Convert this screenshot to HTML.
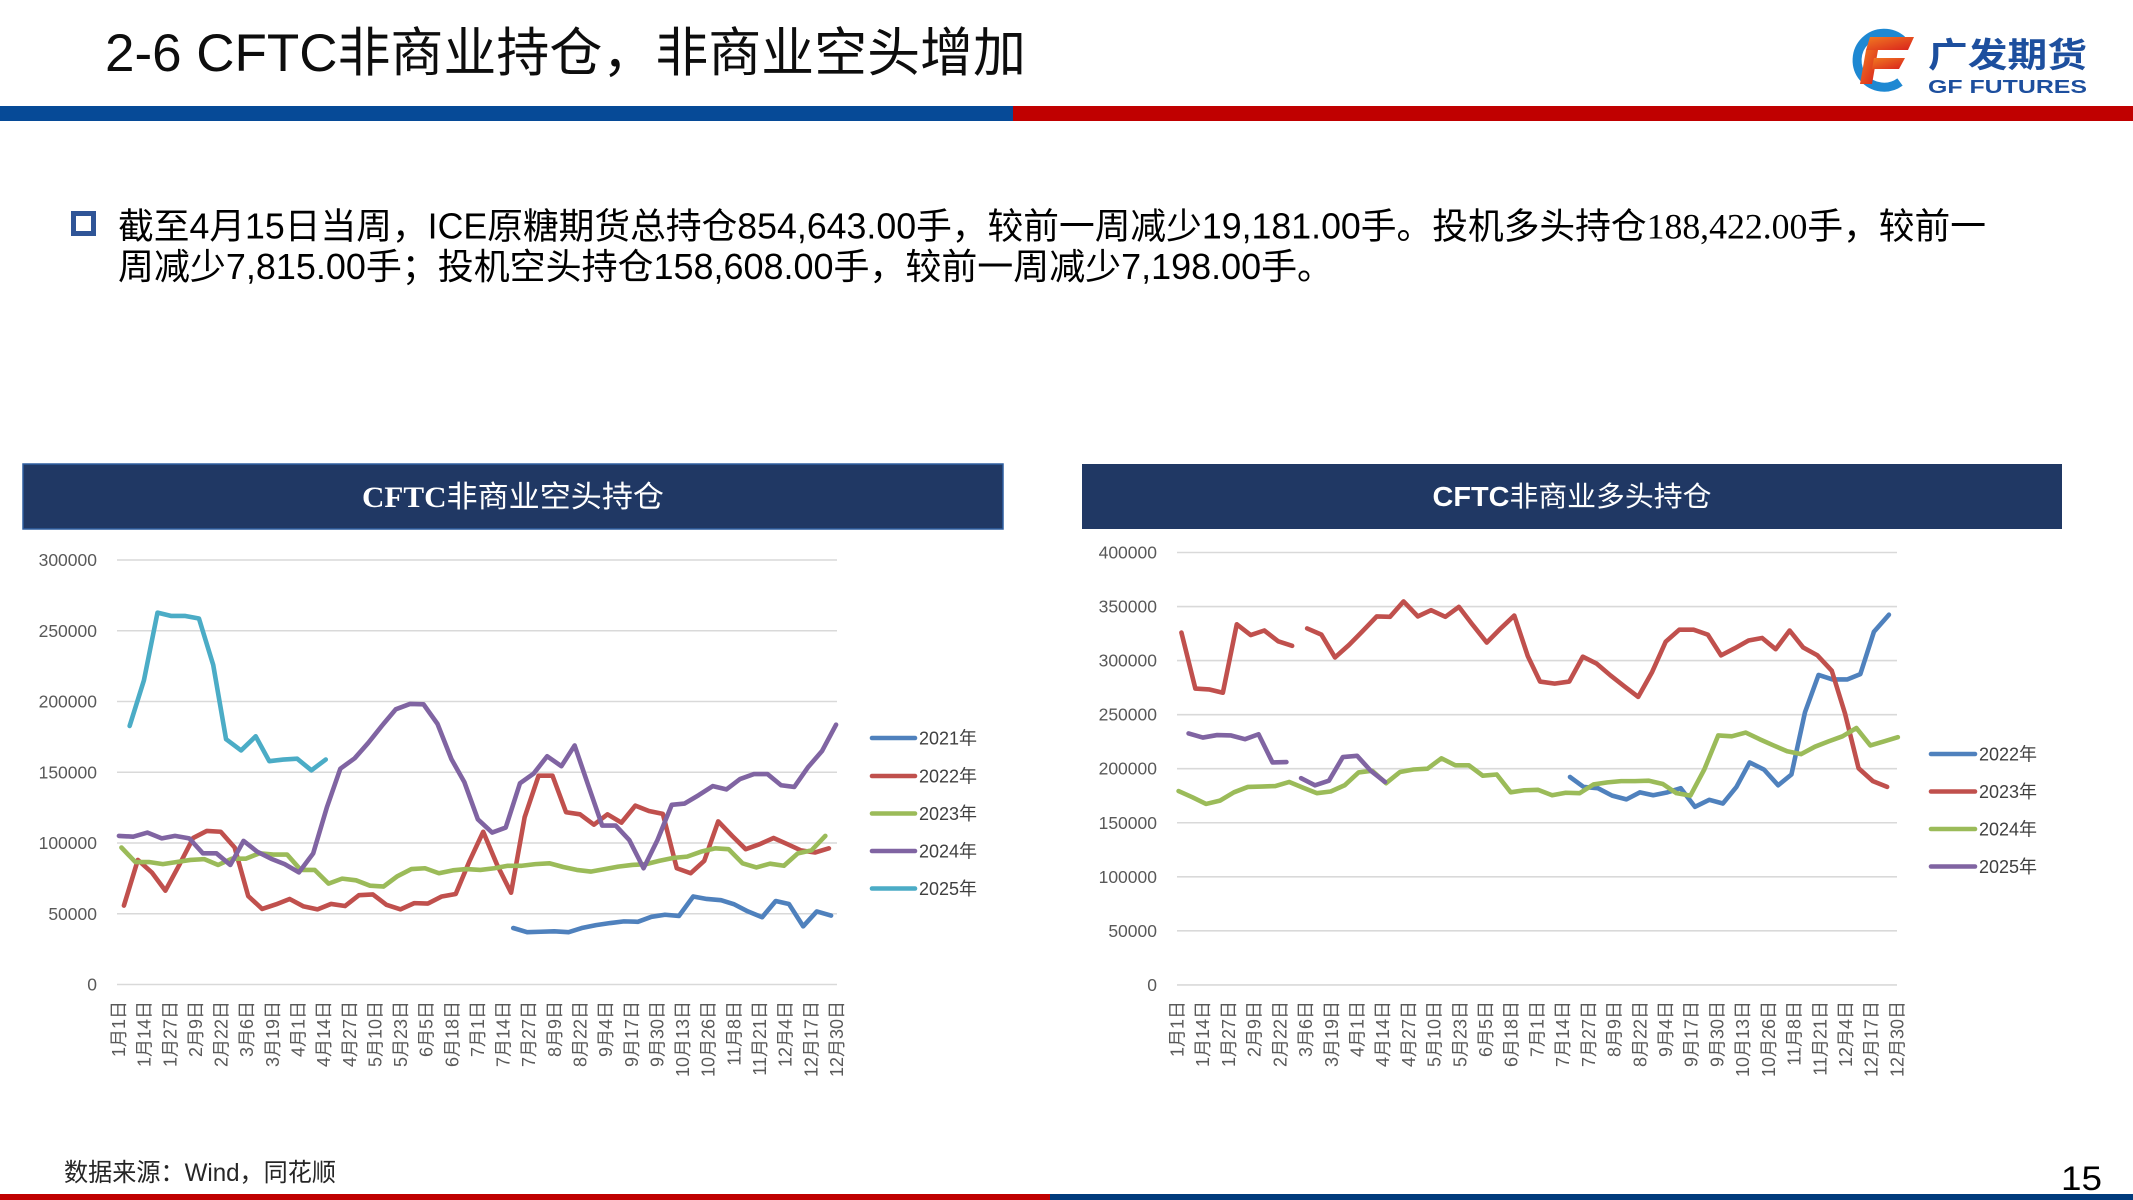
<!DOCTYPE html>
<html><head><meta charset="utf-8"><style>
html,body{margin:0;padding:0;background:#fff;}
body{width:2133px;height:1200px;overflow:hidden;}
svg{display:block;}
.s{font-family:"Liberation Sans","Noto Sans CJK SC",sans-serif;}
.ax{font-family:"Liberation Sans","Noto Sans CJK SC",sans-serif;font-size:17.5px;fill:#595959;}
.xl{font-family:"Liberation Sans","Noto Sans CJK SC",sans-serif;font-size:18px;fill:#595959;}
.lg{font-family:"Liberation Sans","Noto Sans CJK SC",sans-serif;font-size:18px;fill:#404040;}
</style></head><body>
<svg width="2133" height="1200" viewBox="0 0 2133 1200" xmlns="http://www.w3.org/2000/svg">
<defs>
<linearGradient id="fg" x1="0" y1="0" x2="1" y2="1"><stop offset="0" stop-color="#F07A22"/><stop offset="1" stop-color="#D9211C"/></linearGradient>
</defs>
<!-- Title -->
<text class="s" x="105" y="71" font-size="53" fill="#0d0d0d" textLength="921" lengthAdjust="spacingAndGlyphs">2-6 CFTC非商业持仓，非商业空头增加</text>
<!-- top bar -->
<rect x="0" y="106" width="1013" height="15" fill="#064A97"/>
<rect x="1013" y="106" width="1120" height="15" fill="#C00000"/>
<!-- logo -->
<rect x="1837" y="20" width="275" height="86" fill="#fff"/>
<path d="M1902,40 A27,27 0 1 0 1900,82" stroke="#1E88D2" stroke-width="9" fill="none"/>
<polygon points="1870,37 1914,37 1908,50 1866,50" fill="url(#fg)"/>
<polygon points="1866,50 1878,50 1872,84 1860,84" fill="url(#fg)"/>
<polygon points="1874,58 1905,58 1899,69 1872,69" fill="url(#fg)"/>
<text class="s" x="1928" y="67" font-size="34" font-weight="bold" fill="#1D4F9E" textLength="159" lengthAdjust="spacingAndGlyphs">广发期货</text>
<text class="s" x="1928" y="93" font-size="18" font-weight="bold" fill="#1D4F9E" textLength="159" lengthAdjust="spacingAndGlyphs">GF FUTURES</text>
<!-- bullet -->
<rect x="73.5" y="213.5" width="20" height="20" fill="none" stroke="#2F5597" stroke-width="5"/>
<text class="s" x="118" y="238.5" font-size="36" fill="#000" textLength="1868" lengthAdjust="spacingAndGlyphs">截至4月15日当周，ICE原糖期货总持仓854,643.00手，较前一周减少19,181.00手。投机多头持仓<tspan font-family="Liberation Serif,serif">188,422.00</tspan>手，较前一</text>
<text class="s" x="118" y="279" font-size="36" fill="#000" textLength="1215" lengthAdjust="spacingAndGlyphs">周减少7,815.00手；投机空头持仓158,608.00手，较前一周减少7,198.00手。</text>

<!-- LEFT CHART -->
<rect x="23" y="464" width="980" height="65" fill="#203864" stroke="#2F5FA0" stroke-width="1.5"/>
<text x="513" y="507" font-size="30" fill="#fff" text-anchor="middle" textLength="302" lengthAdjust="spacingAndGlyphs" font-family="Liberation Serif, Noto Sans CJK SC, serif"><tspan font-weight="bold">CFTC</tspan>非商业空头持仓</text>
<g stroke="#D9D9D9" stroke-width="1.6">
<line x1="117" y1="984.5" x2="837" y2="984.5"/>
<line x1="117" y1="913.75" x2="837" y2="913.75"/>
<line x1="117" y1="843" x2="837" y2="843"/>
<line x1="117" y1="772.25" x2="837" y2="772.25"/>
<line x1="117" y1="701.5" x2="837" y2="701.5"/>
<line x1="117" y1="630.75" x2="837" y2="630.75"/>
<line x1="117" y1="560" x2="837" y2="560"/>
</g>
<g class="ax" text-anchor="end">
<text x="97" y="990.5">0</text>
<text x="97" y="919.75">50000</text>
<text x="97" y="849">100000</text>
<text x="97" y="778.25">150000</text>
<text x="97" y="707.5">200000</text>
<text x="97" y="636.75">250000</text>
<text x="97" y="566">300000</text>
</g>
<g class="xl" text-anchor="end">
<text transform="translate(125.0,1001) rotate(-90)">1月1日</text>
<text transform="translate(150.6,1001) rotate(-90)">1月14日</text>
<text transform="translate(176.3,1001) rotate(-90)">1月27日</text>
<text transform="translate(201.9,1001) rotate(-90)">2月9日</text>
<text transform="translate(227.6,1001) rotate(-90)">2月22日</text>
<text transform="translate(253.2,1001) rotate(-90)">3月6日</text>
<text transform="translate(278.8,1001) rotate(-90)">3月19日</text>
<text transform="translate(304.5,1001) rotate(-90)">4月1日</text>
<text transform="translate(330.1,1001) rotate(-90)">4月14日</text>
<text transform="translate(355.8,1001) rotate(-90)">4月27日</text>
<text transform="translate(381.4,1001) rotate(-90)">5月10日</text>
<text transform="translate(407.0,1001) rotate(-90)">5月23日</text>
<text transform="translate(432.7,1001) rotate(-90)">6月5日</text>
<text transform="translate(458.3,1001) rotate(-90)">6月18日</text>
<text transform="translate(484.0,1001) rotate(-90)">7月1日</text>
<text transform="translate(509.6,1001) rotate(-90)">7月14日</text>
<text transform="translate(535.2,1001) rotate(-90)">7月27日</text>
<text transform="translate(560.9,1001) rotate(-90)">8月9日</text>
<text transform="translate(586.5,1001) rotate(-90)">8月22日</text>
<text transform="translate(612.2,1001) rotate(-90)">9月4日</text>
<text transform="translate(637.8,1001) rotate(-90)">9月17日</text>
<text transform="translate(663.4,1001) rotate(-90)">9月30日</text>
<text transform="translate(689.1,1001) rotate(-90)">10月13日</text>
<text transform="translate(714.7,1001) rotate(-90)">10月26日</text>
<text transform="translate(740.4,1001) rotate(-90)">11月8日</text>
<text transform="translate(766.0,1001) rotate(-90)">11月21日</text>
<text transform="translate(791.6,1001) rotate(-90)">12月4日</text>
<text transform="translate(817.3,1001) rotate(-90)">12月17日</text>
<text transform="translate(842.9,1001) rotate(-90)">12月30日</text>
</g>
<g transform="translate(0,450) scale(0.35714,0.41494)" fill="none" stroke-linejoin="round" stroke-linecap="round">
<polyline vector-effect="non-scaling-stroke" stroke="#4F81BD" stroke-width="4.6" points="1437,1152 1476,1162 1514,1161 1552,1160 1592,1162 1629,1152 1669,1145 1709,1140 1747,1136 1786,1137 1824,1125 1862,1120 1901,1123 1941,1076 1979,1082 2019,1085 2056,1095 2094,1112 2134,1126 2172,1087 2209,1094 2249,1148 2287,1112 2327,1122"/>
<polyline vector-effect="non-scaling-stroke" stroke="#C0504D" stroke-width="4.6" points="347,1098 386,988 425,1018 463,1062 502,1000 541,935 579,918 618,920 657,958 695,1075 734,1106 773,1095 811,1082 850,1100 889,1107 927,1094 966,1099 1005,1073 1044,1071 1082,1096 1121,1107 1160,1092 1198,1093 1237,1076 1276,1070 1315,990 1353,920 1392,1000 1431,1067 1469,885 1508,785 1547,785 1585,873 1624,878 1663,903 1701,878 1740,898 1779,857 1817,870 1856,877 1895,1008 1934,1020 1972,990 2011,895 2050,930 2088,962 2127,950 2166,935 2205,950 2243,965 2282,970 2321,960"/>
<polyline vector-effect="non-scaling-stroke" stroke="#9BBB59" stroke-width="4.6" points="340,958 379,993 417,993 456,998 495,993 533,988 572,986 611,1000 649,985 688,985 726,972 765,975 804,975 842,1012 881,1012 920,1045 958,1033 997,1037 1036,1050 1074,1052 1113,1027 1152,1010 1190,1008 1229,1020 1268,1013 1306,1010 1345,1012 1384,1008 1422,1002 1461,1002 1499,998 1538,996 1577,1005 1615,1012 1654,1016 1693,1010 1731,1004 1770,1000 1809,998 1847,990 1886,983 1924,980 1963,968 2002,960 2040,962 2079,996 2118,1006 2156,997 2195,1002 2234,972 2272,965 2311,930"/>
<polyline vector-effect="non-scaling-stroke" stroke="#8064A2" stroke-width="4.6" points="333,930 373,932 413,922 453,936 490,930 530,936 568,972 606,972 645,1000 682,942 720,968 759,985 797,998 837,1018 877,972 915,862 953,768 993,743 1031,706 1069,665 1108,625 1148,612 1186,613 1225,660 1264,745 1300,800 1338,890 1378,922 1416,910 1456,803 1494,780 1532,738 1572,762 1609,712 1647,808 1686,905 1724,905 1762,940 1802,1008 1841,940 1881,855 1917,852 1956,832 1996,810 2034,818 2072,793 2111,781 2149,781 2187,808 2224,812 2262,765 2302,725 2341,662"/>
<polyline vector-effect="non-scaling-stroke" stroke="#4BACC6" stroke-width="4.6" points="363,665 403,555 441,392 480,400 519,400 557,406 597,518 633,697 675,724 716,690 754,750 793,746 832,744 872,772 912,746"/>
</g>
<g stroke-width="4.6" stroke-linecap="round">
<line x1="872" y1="738" x2="915" y2="738" stroke="#4F81BD"/>
<line x1="872" y1="776" x2="915" y2="776" stroke="#C0504D"/>
<line x1="872" y1="813.5" x2="915" y2="813.5" stroke="#9BBB59"/>
<line x1="872" y1="851" x2="915" y2="851" stroke="#8064A2"/>
<line x1="872" y1="888.5" x2="915" y2="888.5" stroke="#4BACC6"/>
</g>
<g class="lg">
<text x="919" y="744.5">2021年</text>
<text x="919" y="782.5">2022年</text>
<text x="919" y="820">2023年</text>
<text x="919" y="857.5">2024年</text>
<text x="919" y="895">2025年</text>
</g>

<!-- RIGHT CHART -->
<rect x="1082" y="464" width="980" height="65" fill="#203864"/>
<text x="1572" y="506" font-size="28" fill="#fff" text-anchor="middle" textLength="279" lengthAdjust="spacingAndGlyphs" font-family="Liberation Sans, Noto Sans CJK SC, sans-serif"><tspan font-weight="bold">CFTC</tspan>非商业多头持仓</text>
<g stroke="#D9D9D9" stroke-width="1.6">
<line x1="1177" y1="984.9" x2="1897" y2="984.9"/>
<line x1="1177" y1="930.85" x2="1897" y2="930.85"/>
<line x1="1177" y1="876.8" x2="1897" y2="876.8"/>
<line x1="1177" y1="822.75" x2="1897" y2="822.75"/>
<line x1="1177" y1="768.7" x2="1897" y2="768.7"/>
<line x1="1177" y1="714.65" x2="1897" y2="714.65"/>
<line x1="1177" y1="660.6" x2="1897" y2="660.6"/>
<line x1="1177" y1="606.55" x2="1897" y2="606.55"/>
<line x1="1177" y1="552.5" x2="1897" y2="552.5"/>
</g>
<g class="ax" text-anchor="end">
<text x="1157" y="990.9">0</text>
<text x="1157" y="936.85">50000</text>
<text x="1157" y="882.8">100000</text>
<text x="1157" y="828.75">150000</text>
<text x="1157" y="774.7">200000</text>
<text x="1157" y="720.65">250000</text>
<text x="1157" y="666.6">300000</text>
<text x="1157" y="612.55">350000</text>
<text x="1157" y="558.5">400000</text>
</g>
<g class="xl" text-anchor="end">
<text transform="translate(1183.5,1001) rotate(-90)">1月1日</text>
<text transform="translate(1209.2,1001) rotate(-90)">1月14日</text>
<text transform="translate(1234.9,1001) rotate(-90)">1月27日</text>
<text transform="translate(1260.6,1001) rotate(-90)">2月9日</text>
<text transform="translate(1286.3,1001) rotate(-90)">2月22日</text>
<text transform="translate(1312.1,1001) rotate(-90)">3月6日</text>
<text transform="translate(1337.8,1001) rotate(-90)">3月19日</text>
<text transform="translate(1363.5,1001) rotate(-90)">4月1日</text>
<text transform="translate(1389.2,1001) rotate(-90)">4月14日</text>
<text transform="translate(1414.9,1001) rotate(-90)">4月27日</text>
<text transform="translate(1440.6,1001) rotate(-90)">5月10日</text>
<text transform="translate(1466.3,1001) rotate(-90)">5月23日</text>
<text transform="translate(1492.0,1001) rotate(-90)">6月5日</text>
<text transform="translate(1517.7,1001) rotate(-90)">6月18日</text>
<text transform="translate(1543.4,1001) rotate(-90)">7月1日</text>
<text transform="translate(1569.2,1001) rotate(-90)">7月14日</text>
<text transform="translate(1594.9,1001) rotate(-90)">7月27日</text>
<text transform="translate(1620.6,1001) rotate(-90)">8月9日</text>
<text transform="translate(1646.3,1001) rotate(-90)">8月22日</text>
<text transform="translate(1672.0,1001) rotate(-90)">9月4日</text>
<text transform="translate(1697.7,1001) rotate(-90)">9月17日</text>
<text transform="translate(1723.4,1001) rotate(-90)">9月30日</text>
<text transform="translate(1749.1,1001) rotate(-90)">10月13日</text>
<text transform="translate(1774.8,1001) rotate(-90)">10月26日</text>
<text transform="translate(1800.5,1001) rotate(-90)">11月8日</text>
<text transform="translate(1826.3,1001) rotate(-90)">11月21日</text>
<text transform="translate(1852.0,1001) rotate(-90)">12月4日</text>
<text transform="translate(1877.7,1001) rotate(-90)">12月17日</text>
<text transform="translate(1903.4,1001) rotate(-90)">12月30日</text>
</g>
<g transform="translate(1075,450) scale(0.35714,0.41494)" fill="none" stroke-linejoin="round" stroke-linecap="round">
<polyline vector-effect="non-scaling-stroke" stroke="#4F81BD" stroke-width="4.6" points="1386,788 1424,812 1464,815 1504,833 1544,842 1582,825 1619,832 1659,825 1696,815 1736,860 1776,843 1814,852 1852,812 1889,753 1929,770 1969,808 2006,782 2044,632 2082,542 2121,553 2162,553 2199,540 2237,438 2279,397"/>
<polyline vector-effect="non-scaling-stroke" stroke="#C0504D" stroke-width="4.6" points="298,440 337,575 375,577 414,585 453,420 492,446 530,435 569,461 608,472"/>
<polyline vector-effect="non-scaling-stroke" stroke="#C0504D" stroke-width="4.6" points="650,430 690,445 728,500 767,470 806,436 845,401 882,402 920,365 960,401 997,386 1037,402 1075,378 1114,422 1153,464 1192,430 1230,399 1268,497 1302,558 1343,563 1384,558 1422,498 1461,515 1499,543 1539,570 1577,595 1616,535 1654,462 1692,433 1732,433 1772,445 1809,495 1847,478 1886,459 1924,453 1962,480 2001,435 2039,476 2079,495 2119,532 2156,635 2194,767 2234,798 2274,812"/>
<polyline vector-effect="non-scaling-stroke" stroke="#9BBB59" stroke-width="4.6" points="290,822 329,837 367,853 406,845 445,825 484,812 522,811 561,810 600,800 639,814 677,827 716,823 755,808 794,777 832,773 871,803 910,776 948,770 987,768 1026,743 1065,760 1103,760 1142,785 1181,782 1220,825 1258,820 1297,819 1336,832 1374,826 1413,827 1452,806 1491,801 1529,798 1568,798 1607,797 1646,805 1684,827 1723,833 1762,770 1801,688 1839,690 1878,681 1917,697 1956,712 1994,726 2033,733 2072,715 2111,702 2149,690 2188,670 2227,712 2266,702 2304,692"/>
<polyline vector-effect="non-scaling-stroke" stroke="#8064A2" stroke-width="4.6" points="318,683 358,693 398,687 437,688 476,697 514,685 553,753 592,752"/>
<polyline vector-effect="non-scaling-stroke" stroke="#8064A2" stroke-width="4.6" points="633,791 672,808 711,797 750,740 790,737 828,773 868,800"/>
</g>
<g stroke-width="4.6" stroke-linecap="round">
<line x1="1931" y1="754" x2="1975" y2="754" stroke="#4F81BD"/>
<line x1="1931" y1="791.5" x2="1975" y2="791.5" stroke="#C0504D"/>
<line x1="1931" y1="829" x2="1975" y2="829" stroke="#9BBB59"/>
<line x1="1931" y1="866.5" x2="1975" y2="866.5" stroke="#8064A2"/>
</g>
<g class="lg">
<text x="1979" y="760.5">2022年</text>
<text x="1979" y="798">2023年</text>
<text x="1979" y="835.5">2024年</text>
<text x="1979" y="873">2025年</text>
</g>

<!-- footer -->
<text class="s" x="64" y="1181" font-size="25" fill="#262626" textLength="272" lengthAdjust="spacingAndGlyphs">数据来源：Wind，同花顺</text>
<text class="s" x="2061" y="1190" font-size="34" fill="#000" textLength="41" lengthAdjust="spacingAndGlyphs">15</text>
<rect x="0" y="1194" width="1050" height="6" fill="#C00000"/>
<rect x="1050" y="1194" width="1083" height="6" fill="#003B7C"/>
</svg>
</body></html>
